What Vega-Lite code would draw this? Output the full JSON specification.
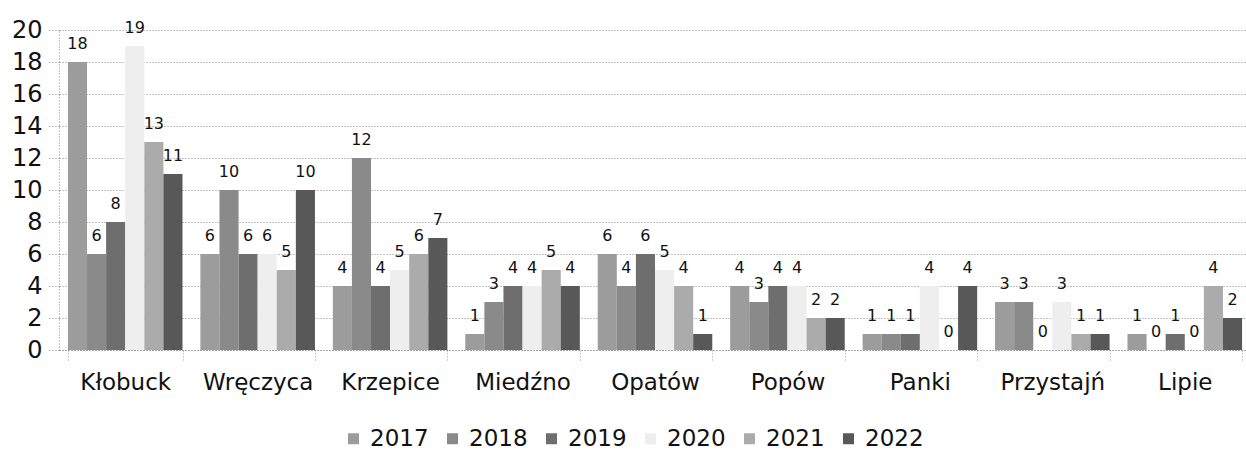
{
  "$schema": "https://vega.github.io/schema/vega-lite/v6.json",
  "width": 1192,
  "height": 320,
  "autosize": {"type": "none"},
  "padding": {"left": 59, "top": 30, "right": 0, "bottom": 100},
  "background": "white",
  "config": {
    "font": "DejaVu Sans",
    "view": {"stroke": null}
  },
  "data": {
    "values": [
      {"gmina": "Kłobuck", "rok": "2017", "v": 18},
      {"gmina": "Kłobuck", "rok": "2018", "v": 6},
      {"gmina": "Kłobuck", "rok": "2019", "v": 8},
      {"gmina": "Kłobuck", "rok": "2020", "v": 19},
      {"gmina": "Kłobuck", "rok": "2021", "v": 13},
      {"gmina": "Kłobuck", "rok": "2022", "v": 11},
      {"gmina": "Wręczyca", "rok": "2017", "v": 6},
      {"gmina": "Wręczyca", "rok": "2018", "v": 10},
      {"gmina": "Wręczyca", "rok": "2019", "v": 6},
      {"gmina": "Wręczyca", "rok": "2020", "v": 6},
      {"gmina": "Wręczyca", "rok": "2021", "v": 5},
      {"gmina": "Wręczyca", "rok": "2022", "v": 10},
      {"gmina": "Krzepice", "rok": "2017", "v": 4},
      {"gmina": "Krzepice", "rok": "2018", "v": 12},
      {"gmina": "Krzepice", "rok": "2019", "v": 4},
      {"gmina": "Krzepice", "rok": "2020", "v": 5},
      {"gmina": "Krzepice", "rok": "2021", "v": 6},
      {"gmina": "Krzepice", "rok": "2022", "v": 7},
      {"gmina": "Miedźno", "rok": "2017", "v": 1},
      {"gmina": "Miedźno", "rok": "2018", "v": 3},
      {"gmina": "Miedźno", "rok": "2019", "v": 4},
      {"gmina": "Miedźno", "rok": "2020", "v": 4},
      {"gmina": "Miedźno", "rok": "2021", "v": 5},
      {"gmina": "Miedźno", "rok": "2022", "v": 4},
      {"gmina": "Opatów", "rok": "2017", "v": 6},
      {"gmina": "Opatów", "rok": "2018", "v": 4},
      {"gmina": "Opatów", "rok": "2019", "v": 6},
      {"gmina": "Opatów", "rok": "2020", "v": 5},
      {"gmina": "Opatów", "rok": "2021", "v": 4},
      {"gmina": "Opatów", "rok": "2022", "v": 1},
      {"gmina": "Popów", "rok": "2017", "v": 4},
      {"gmina": "Popów", "rok": "2018", "v": 3},
      {"gmina": "Popów", "rok": "2019", "v": 4},
      {"gmina": "Popów", "rok": "2020", "v": 4},
      {"gmina": "Popów", "rok": "2021", "v": 2},
      {"gmina": "Popów", "rok": "2022", "v": 2},
      {"gmina": "Panki", "rok": "2017", "v": 1},
      {"gmina": "Panki", "rok": "2018", "v": 1},
      {"gmina": "Panki", "rok": "2019", "v": 1},
      {"gmina": "Panki", "rok": "2020", "v": 4},
      {"gmina": "Panki", "rok": "2021", "v": 0},
      {"gmina": "Panki", "rok": "2022", "v": 4},
      {"gmina": "Przystajń", "rok": "2017", "v": 3},
      {"gmina": "Przystajń", "rok": "2018", "v": 3},
      {"gmina": "Przystajń", "rok": "2019", "v": 0},
      {"gmina": "Przystajń", "rok": "2020", "v": 3},
      {"gmina": "Przystajń", "rok": "2021", "v": 1},
      {"gmina": "Przystajń", "rok": "2022", "v": 1},
      {"gmina": "Lipie", "rok": "2017", "v": 1},
      {"gmina": "Lipie", "rok": "2018", "v": 0},
      {"gmina": "Lipie", "rok": "2019", "v": 1},
      {"gmina": "Lipie", "rok": "2020", "v": 0},
      {"gmina": "Lipie", "rok": "2021", "v": 4},
      {"gmina": "Lipie", "rok": "2022", "v": 2}
    ]
  },
  "encoding": {
    "x": {
      "field": "gmina",
      "type": "nominal",
      "sort": null,
      "scale": {"paddingInner": 0.135, "paddingOuter": 0.0675},
      "axis": {
        "title": null,
        "labelAngle": 0,
        "labelFontSize": 23,
        "labelColor": "#111",
        "labelPadding": 11,
        "tickBand": "extent",
        "tickSize": 10,
        "tickColor": "#999",
        "tickDash": [1, 2],
        "domainColor": "#888",
        "domainDash": [1, 2],
        "grid": false
      }
    },
    "xOffset": {"field": "rok", "type": "nominal", "scale": {"padding": 0}},
    "y": {
      "field": "v",
      "type": "quantitative",
      "scale": {"domain": [0, 20]},
      "axis": {
        "title": null,
        "values": [0, 2, 4, 6, 8, 10, 12, 14, 16, 18, 20],
        "labelFontSize": 24,
        "labelColor": "#111",
        "labelPadding": 7,
        "tickSize": 10,
        "tickColor": "#888",
        "tickDash": [1, 2],
        "domainColor": "#888",
        "domainDash": [1, 2],
        "gridColor": "#888",
        "gridDash": [1, 2],
        "gridWidth": 1
      }
    }
  },
  "layer": [
    {
      "mark": {"type": "bar"},
      "encoding": {
        "color": {
          "field": "rok",
          "type": "nominal",
          "scale": {
            "domain": ["2017", "2018", "2019", "2020", "2021", "2022"],
            "range": ["#9c9c9c", "#8a8a8a", "#6e6e6e", "#eeeeee", "#ababab", "#585858"]
          },
          "legend": {
            "title": null,
            "orient": "none",
            "direction": "horizontal",
            "legendX": 283,
            "legendY": 397,
            "symbolType": "square",
            "symbolSize": 121,
            "labelFontSize": 23,
            "labelColor": "#111",
            "labelLimit": 200,
            "columnPadding": 12,
            "labelOffset": 5
          }
        }
      }
    },
    {
      "mark": {"type": "text", "dy": -13, "baseline": "alphabetic", "fontSize": 16, "color": "#111"},
      "encoding": {"text": {"field": "v", "type": "quantitative"}}
    }
  ]
}
